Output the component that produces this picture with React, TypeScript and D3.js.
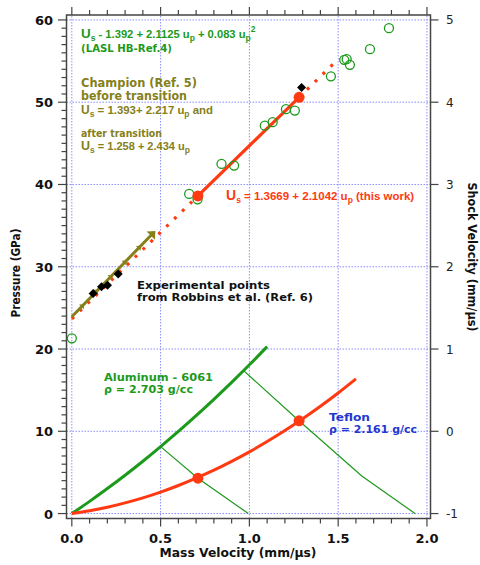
import React from "react";
import * as d3 from "d3";

// ---------- data ----------
// Aluminum 6061 Hugoniot (P-up plane, left axis)
const alUp = [0, 0.1, 0.2, 0.3, 0.4, 0.5, 0.6, 0.7, 0.8, 0.9, 1.0, 1.1];
const alP = [0, 1.48, 3.04, 4.66, 6.36, 8.14, 9.98, 11.9, 13.89, 15.95, 18.08, 20.29];
// Teflon Hugoniot (P-up plane)
const tefUp = [0, 0.1, 0.2, 0.3, 0.4, 0.5, 0.6, 0.7, 0.8, 0.9, 1.0, 1.1, 1.2, 1.3, 1.4, 1.5, 1.6];
const tefP = [0, 0.34, 0.77, 1.3, 1.91, 2.61, 3.41, 4.3, 5.27, 6.34, 7.5, 8.75, 10.09, 11.53, 13.05, 14.66, 16.37];
// Aluminum release lines
const rel1Up = [0.5, 0.71, 0.994];
const rel1P = [8.14, 4.3, 0];
const rel2Up = [0.966, 1.281, 1.633, 1.933];
const rel2P = [17.4, 11.25, 4.57, 0];
// Impedance-match points
const matchUp = [0.71, 1.28];
const matchP = [4.3, 11.27];
const matchUs = [2.861, 4.06];
// This work Us-up fit (right axis)
const fitDotUp1 = [0, 0.71];
const fitDotUs1 = [1.367, 2.861];
const fitSolidUp = [0.71, 1.28];
const fitSolidUs = [2.861, 4.06];
const fitDotUp2 = [1.28, 1.48];
const fitDotUs2 = [4.06, 4.481];
// Champion line
const champUp = [0, 0.46];
const champUs = [1.393, 2.413];
const champMarkUp = [0.06, 0.14, 0.22, 0.3, 0.38, 0.455];
// Robbins et al. points (open circles), Us-up
const circUp = [0, 0.661, 0.708, 0.843, 0.914, 1.087, 1.131, 1.206, 1.256, 1.459, 1.534, 1.548, 1.566, 1.679, 1.786];
const circUs = [1.13, 2.885, 2.82, 3.25, 3.23, 3.715, 3.757, 3.915, 3.898, 4.314, 4.515, 4.523, 4.454, 4.645, 4.9];
// Black diamonds
const diaUp = [0.12, 0.167, 0.201, 0.261, 1.294];
const diaUs = [1.676, 1.757, 1.774, 1.911, 4.178];
// ticks
const xMajor = [0, 0.5, 1.0, 1.5, 2.0];
const xLabels = ["0.0", "0.5", "1.0", "1.5", "2.0"];
const yMajor = [0, 10, 20, 30, 40, 50, 60];
const rMajor = [-1, 0, 1, 2, 3, 4, 5];

const GREEN = "#1c9a1c";
const RED = "#ff3a12";
const OLIVE = "#85801a";
const BLUE = "#2238d0";
const GRID = "#8c8cff";
const FRAME = "#444";
const FONT = "'DejaVu Sans', Verdana, sans-serif";
const EQFONT = "'Liberation Sans', Arial, Helvetica, sans-serif";

const xS = d3.scaleLinear().domain([-0.03, 2.02]).range([66.5, 430.5]);
const yS = d3.scaleLinear().domain([-0.6, 60.6]).range([518.5, 15]);
const yR = d3.scaleLinear().domain([-1.06, 5.06]).range([518.5, 15]);

const lineP = d3.line<[number, number]>().x((d) => xS(d[0])).y((d) => yS(d[1]));
const lineR = d3.line<[number, number]>().x((d) => xS(d[0])).y((d) => yR(d[1]));
const lineCurveP = d3
  .line<[number, number]>()
  .x((d) => xS(d[0]))
  .y((d) => yS(d[1]))
  .curve(d3.curveMonotoneX);

const zip = (a: number[], b: number[]) => a.map((v, i) => [v, b[i]] as [number, number]);

const LA = "spacingAndGlyphs";

export default function App() {
  const [x0, x1] = xS.range();
  const [yB, yT] = yS.range();
  const minorX = d3.range(0, 2.001, 0.1);
  const champAngle =
    (Math.atan2(yR(champUs[1]) - yR(champUs[0]), xS(champUp[1]) - xS(champUp[0])) * 180) / Math.PI;
  const champAt = (u: number) => champUs[0] + ((champUs[1] - champUs[0]) * (u - champUp[0])) / (champUp[1] - champUp[0]);

  return (
    <svg
      width={480}
      height={565}
      style={{ position: "absolute", left: 0, top: 0, background: "#fff" }}
      fontFamily={FONT}
    >
      <rect width={480} height={565} fill="#fff" />
      {/* grid */}
      {xMajor.map((v) => (
        <line key={"gx" + v} x1={xS(v)} x2={xS(v)} y1={yB} y2={yT} stroke={GRID} strokeWidth={1} strokeDasharray="1.5 1.5" />
      ))}
      {yMajor.map((v) => (
        <line key={"gy" + v} x1={x0} x2={x1} y1={yS(v)} y2={yS(v)} stroke={GRID} strokeWidth={1} strokeDasharray="1.5 1.5" />
      ))}

      {/* frame */}
      <rect x={x0} y={yT} width={x1 - x0} height={yB - yT} fill="none" stroke={FRAME} strokeWidth={1.5} />

      {/* bottom & top ticks */}
      {minorX.map((v, i) => {
        const major = i % 5 === 0;
        const len = major ? 8 : 5;
        return (
          <g key={"tx" + i}>
            <line x1={xS(v)} x2={xS(v)} y1={yB} y2={yB + len} stroke={FRAME} strokeWidth={1.2} />
            <line x1={xS(v)} x2={xS(v)} y1={yT} y2={yT - len} stroke={FRAME} strokeWidth={1.2} />
          </g>
        );
      })}
      {xMajor.map((v, i) => (
        <text key={"xl" + v} x={xS(v)} y={543} textAnchor="middle" fontSize={13} fontWeight="bold" fill="#111">
          {xLabels[i]}
        </text>
      ))}
      {/* left ticks */}
      {d3.range(0, 61, 1).map((v) => {
        const major = v % 10 === 0;
        const len = major ? 8.5 : 5;
        return <line key={"ty" + v} x1={x0 - len} x2={x0} y1={yS(v)} y2={yS(v)} stroke={FRAME} strokeWidth={1.2} />;
      })}
      {yMajor.map((v) => (
        <text key={"yl" + v} x={53} y={yS(v) + 5} textAnchor="end" fontSize={13} fontWeight="bold" fill="#111">
          {v}
        </text>
      ))}
      {/* right ticks */}
      {rMajor.map((v) => (
        <g key={"tr" + v}>
          <line x1={x1} x2={x1 + 8} y1={yR(v)} y2={yR(v)} stroke={FRAME} strokeWidth={1.2} />
          <text x={446} y={yR(v) + 4.5} fontSize={12} fill="#222">
            {v}
          </text>
        </g>
      ))}

      {/* axis titles */}
      <text x={238} y={557} textAnchor="middle" fontSize={13} fontWeight="bold" fill="#111" textLength={157} lengthAdjust={LA}>
        Mass Velocity (mm/µs)
      </text>
      <text transform={`translate(20,273) rotate(-90)`} textAnchor="middle" fontSize={11.5} fontWeight="bold" fill="#111" textLength={89} lengthAdjust={LA}>
        Pressure (GPa)
      </text>
      <text transform={`translate(468,257) rotate(90)`} textAnchor="middle" fontSize={12.5} fontWeight="bold" fill="#111" textLength={149} lengthAdjust={LA}>
        Shock Velocity (mm/µs)
      </text>

      {/* Hugoniots */}
      <path d={lineP(zip(rel1Up, rel1P)) || ""} fill="none" stroke={GREEN} strokeWidth={1.2} />
      <path d={lineP(zip(rel2Up, rel2P)) || ""} fill="none" stroke={GREEN} strokeWidth={1.2} />
      <path d={lineCurveP(zip(alUp, alP)) || ""} fill="none" stroke={GREEN} strokeWidth={3} />
      <path d={lineCurveP(zip(tefUp, tefP)) || ""} fill="none" stroke={RED} strokeWidth={3} />
      {matchUp.map((u, i) => (
        <circle key={"mp" + i} cx={xS(u)} cy={yS(matchP[i])} r={5.5} fill={RED} />
      ))}

      {/* this work fit (dotted part first, under Champion) */}
      <path d={lineR(zip(fitDotUp1, fitDotUs1)) || ""} fill="none" stroke={RED} strokeWidth={3.2} strokeDasharray="3 8" />

      {/* Champion line */}
      <path d={lineR(zip(champUp, champUs)) || ""} fill="none" stroke={OLIVE} strokeWidth={3} />
      {champMarkUp.map((u, i) => {
        const last = i === champMarkUp.length - 1;
        const s = last ? 1.3 : 0.75;
        return (
          <path
            key={"cm" + i}
            transform={`translate(${xS(u)},${yR(champAt(u))}) rotate(${champAngle}) scale(${s})`}
            d="M -2 -4.5 L 3 0 L -2 4.5 Z"
            fill={OLIVE}
          />
        );
      })}

      <path d={lineR(zip(fitSolidUp, fitSolidUs)) || ""} fill="none" stroke={RED} strokeWidth={3.2} />
      <path d={lineR(zip(fitDotUp2, fitDotUs2)) || ""} fill="none" stroke={RED} strokeWidth={3.2} strokeDasharray="3 8" />

      {/* Robbins circles */}
      {circUp.map((u, i) => (
        <circle key={"c" + i} cx={xS(u)} cy={yR(circUs[i])} r={4.5} fill="none" stroke={GREEN} strokeWidth={1.3} />
      ))}
      {matchUp.map((u, i) => (
        <circle key={"mr" + i} cx={xS(u)} cy={yR(matchUs[i])} r={5.5} fill={RED} />
      ))}
      {diaUp.map((u, i) => (
        <path
          key={"d" + i}
          transform={`translate(${xS(u)},${yR(diaUs[i])})`}
          d="M 0 -4.5 L 4.5 0 L 0 4.5 L -4.5 0 Z"
          fill="#000"
        />
      ))}

      {/* annotations */}
      <text x={81} y={38} fontFamily={EQFONT} fontSize={11.2} fontWeight="bold" fill={GREEN}>
        <tspan fontSize={13.4}>U</tspan>
        <tspan fontSize={8.5} dy={3}>s</tspan>
        <tspan dy={-3}> - 1.392 + 2.1125 u</tspan>
        <tspan fontSize={8.5} dy={3}>p</tspan>
        <tspan dy={-3}> + 0.083 u</tspan>
        <tspan fontSize={8.5} dy={3}>p</tspan>
        <tspan fontSize={8.5} dy={-9}>2</tspan>
      </text>
      <text x={81} y={52} fontSize={10.5} fontWeight="bold" fill={GREEN} textLength={91} lengthAdjust={LA}>
        (LASL HB-Ref.4)
      </text>

      <text x={81} y={87} fontSize={11.5} fontWeight="bold" fill={OLIVE} textLength={116} lengthAdjust={LA}>
        Champion (Ref. 5)
      </text>
      <text x={81} y={99.5} fontSize={11.5} fontWeight="bold" fill={OLIVE} textLength={106} lengthAdjust={LA}>
        before transition
      </text>
      <text x={81} y={114} fontFamily={EQFONT} fontSize={11.4} fontWeight="bold" fill={OLIVE}>
        <tspan fontSize={12}>U</tspan>
        <tspan fontSize={8.5} dy={3}>s</tspan>
        <tspan dy={-3}> = 1.393+ 2.217 u</tspan>
        <tspan fontSize={8.5} dy={3}>p</tspan>
        <tspan dy={-3}>{"  and"}</tspan>
      </text>
      <text x={81} y={137} fontSize={10} fontWeight="bold" fill={OLIVE} textLength={81} lengthAdjust={LA}>
        after transition
      </text>
      <text x={81} y={150} fontFamily={EQFONT} fontSize={11} fontWeight="bold" fill={OLIVE}>
        <tspan fontSize={12.5}>U</tspan>
        <tspan fontSize={8.5} dy={3}>s</tspan>
        <tspan dy={-3}> = 1.258 + 2.434 u</tspan>
        <tspan fontSize={8.5} dy={3}>p</tspan>
      </text>

      <text x={226} y={200} fontFamily={EQFONT} fontSize={11.5} fontWeight="bold" fill={RED}>
        <tspan fontSize={14}>U</tspan>
        <tspan fontSize={8.5} dy={3}>s</tspan>
        <tspan dy={-3}> = 1.3669 + 2.1042 u</tspan>
        <tspan fontSize={8.5} dy={3}>p</tspan>
        <tspan dy={-3}> (this work)</tspan>
      </text>

      <text x={137} y={289} fontSize={11.2} fontWeight="bold" fill="#111" textLength={133} lengthAdjust={LA}>
        Experimental points
      </text>
      <text x={137} y={301} fontSize={11.2} fontWeight="bold" fill="#111" textLength={176} lengthAdjust={LA}>
        from Robbins et al. (Ref. 6)
      </text>

      <text x={104} y={381} fontSize={11.2} fontWeight="bold" fill={GREEN} textLength={109} lengthAdjust={LA}>
        Aluminum - 6061
      </text>
      <text x={104} y={393} fontSize={11.2} fontWeight="bold" fill={GREEN} textLength={89} lengthAdjust={LA}>
        ρ = 2.703 g/cc
      </text>

      <text x={329} y={421} fontSize={11.2} fontWeight="bold" fill={BLUE} textLength={41} lengthAdjust={LA}>
        Teflon
      </text>
      <text x={329} y={433} fontSize={11.2} fontWeight="bold" fill={BLUE} textLength={88} lengthAdjust={LA}>
        ρ = 2.161 g/cc
      </text>
    </svg>
  );
}
